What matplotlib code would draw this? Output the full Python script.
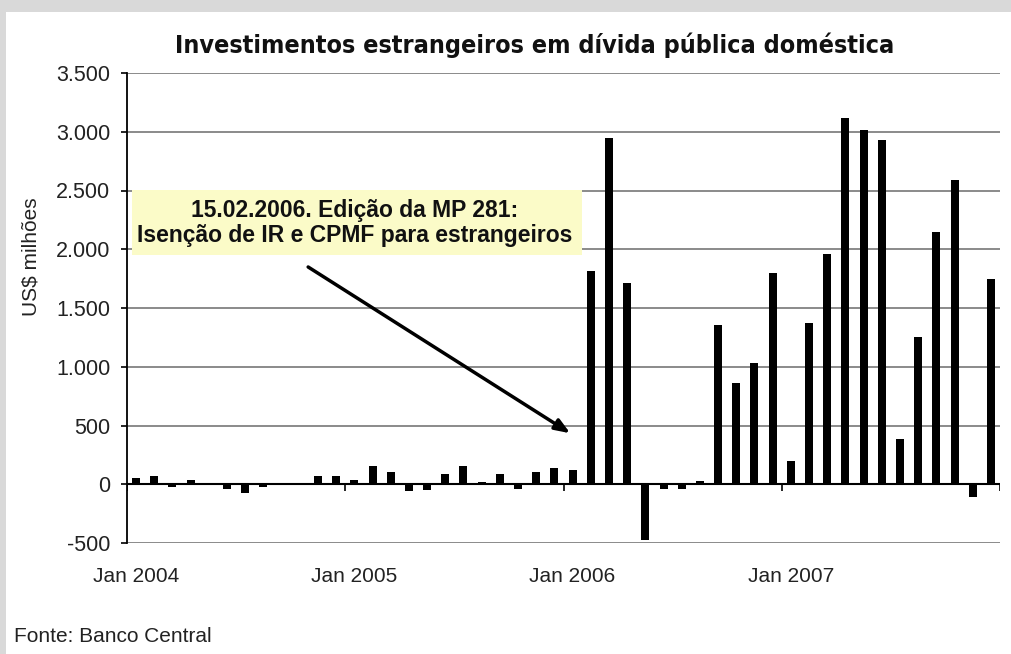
import matplotlib
matplotlib.use("Agg")
import matplotlib.pyplot as plt
import numpy as np

# ---- data ----
years = [2004, 2005, 2006, 2007]
month_names = ["Jan", "Fev", "Mar", "Abr", "Mai", "Jun",
               "Jul", "Ago", "Set", "Out", "Nov", "Dez"]
months = [f"{m} {y}" for y in years for m in month_names]

values = [57, 74, -26, 40, 0, -43, -74, -23, 0, 0, 74, 74,
          40, 159, 105, -60, -45, 91, 159, 20, 91, -43, 105, 139,
          122, 1815, 2945, 1715, -471, -43, -43, 26, 1355, 860, 1031, 1800,
          196, 1375, 1957, 3115, 3013, 2928, 381, 1252, 2144, 2587, -108, 1749]

yticks = [-500, 0, 500, 1000, 1500, 2000, 2500, 3000, 3500]
ytick_labels = ["-500", "0", "500", "1.000", "1.500", "2.000", "2.500", "3.000", "3.500"]
xtick_labels = ["Jan 2004", "Jan 2005", "Jan 2006", "Jan 2007"]

title = "Investimentos estrangeiros em dívida pública doméstica"
annot = "15.02.2006. Edição da MP 281:\nIsenção de IR e CPMF para estrangeiros"

# ---- figure ----
W, H = 1011, 654
fig = plt.figure(figsize=(W / 100, H / 100), dpi=100)
fig.patch.set_facecolor("#d9d9d9")
# white panel (top and left gray bands)
fig.add_artist(plt.Rectangle((6 / W, 0), 1 - 6 / W, 1 - 12 / H,
                             transform=fig.transFigure, facecolor="white",
                             edgecolor="none", zorder=0))

sans = ["Liberation Sans", "DejaVu Sans"]
ax = fig.add_axes([127 / W, 1 - 543 / H, (1000 - 127) / W, (543 - 73) / H])
ax.set_facecolor("none")

x = np.arange(len(values))
ax.bar(x, values, width=0.44, color="black", zorder=3)

ax.set_xlim(-0.5, len(values) - 0.5)
ax.set_ylim(-500, 3500)

ax.set_yticks(yticks)
ax.set_yticklabels(ytick_labels, fontfamily=sans, fontsize=15.5, color="#222222")
ax.grid(axis="y", color="#8a8a8a", linewidth=1.4, zorder=1)
ax.tick_params(axis="y", direction="out", length=4, width=1.2, pad=8)

ax.set_xticks([0, 12, 24, 36])
ax.set_xticklabels(xtick_labels, fontfamily=sans, fontsize=15, color="#222222")
ax.tick_params(axis="x", length=0, pad=17)

for s in ["top", "right", "bottom"]:
    ax.spines[s].set_visible(False)
ax.spines["left"].set_linewidth(1.3)
ax.spines["left"].set_color("black")

# zero axis line and year tick marks
ax.axhline(0, color="black", linewidth=1.5, zorder=4)
ax.vlines([-0.5, 11.5, 23.5, 35.5, 47.5], -60, 0, color="black",
          linewidth=1.2, zorder=4)

# title
fig.text(535 / W, 1 - 45 / H, title, ha="center", va="center",
         fontsize=18, fontweight="bold", fontstretch="condensed",
         fontfamily=["DejaVu Sans"], color="#111111")

# y label
fig.text(31 / W, 1 - 257 / H, "US$ milhões", rotation=90, ha="center",
         va="center", fontsize=15, fontfamily=sans, color="#222222")

# source
fig.text(14 / W, 1 - 636 / H, "Fonte: Banco Central", ha="left", va="center",
         fontsize=15, fontfamily=sans, color="#222222")

# annotation box
fig.add_artist(plt.Rectangle((132 / W, 1 - 255 / H), (582 - 132) / W, 65 / H,
                             transform=fig.transFigure, facecolor="#fbfbc8",
                             edgecolor="none", zorder=5))
fig.text(355 / W, 1 - 223 / H, annot, ha="center", va="center",
         fontsize=16.5, fontweight="bold", fontfamily=sans, color="#111111",
         linespacing=1.12, zorder=6)

# arrow
ax.annotate("", xy=(23.87, 434), xytext=(9.46, 1849),
            arrowprops=dict(arrowstyle="-|>,head_length=0.9,head_width=0.35",
                            color="black", lw=2.5, shrinkA=0, shrinkB=0),
            zorder=6)

fig.savefig("out.png", dpi=100, facecolor=fig.get_facecolor())
